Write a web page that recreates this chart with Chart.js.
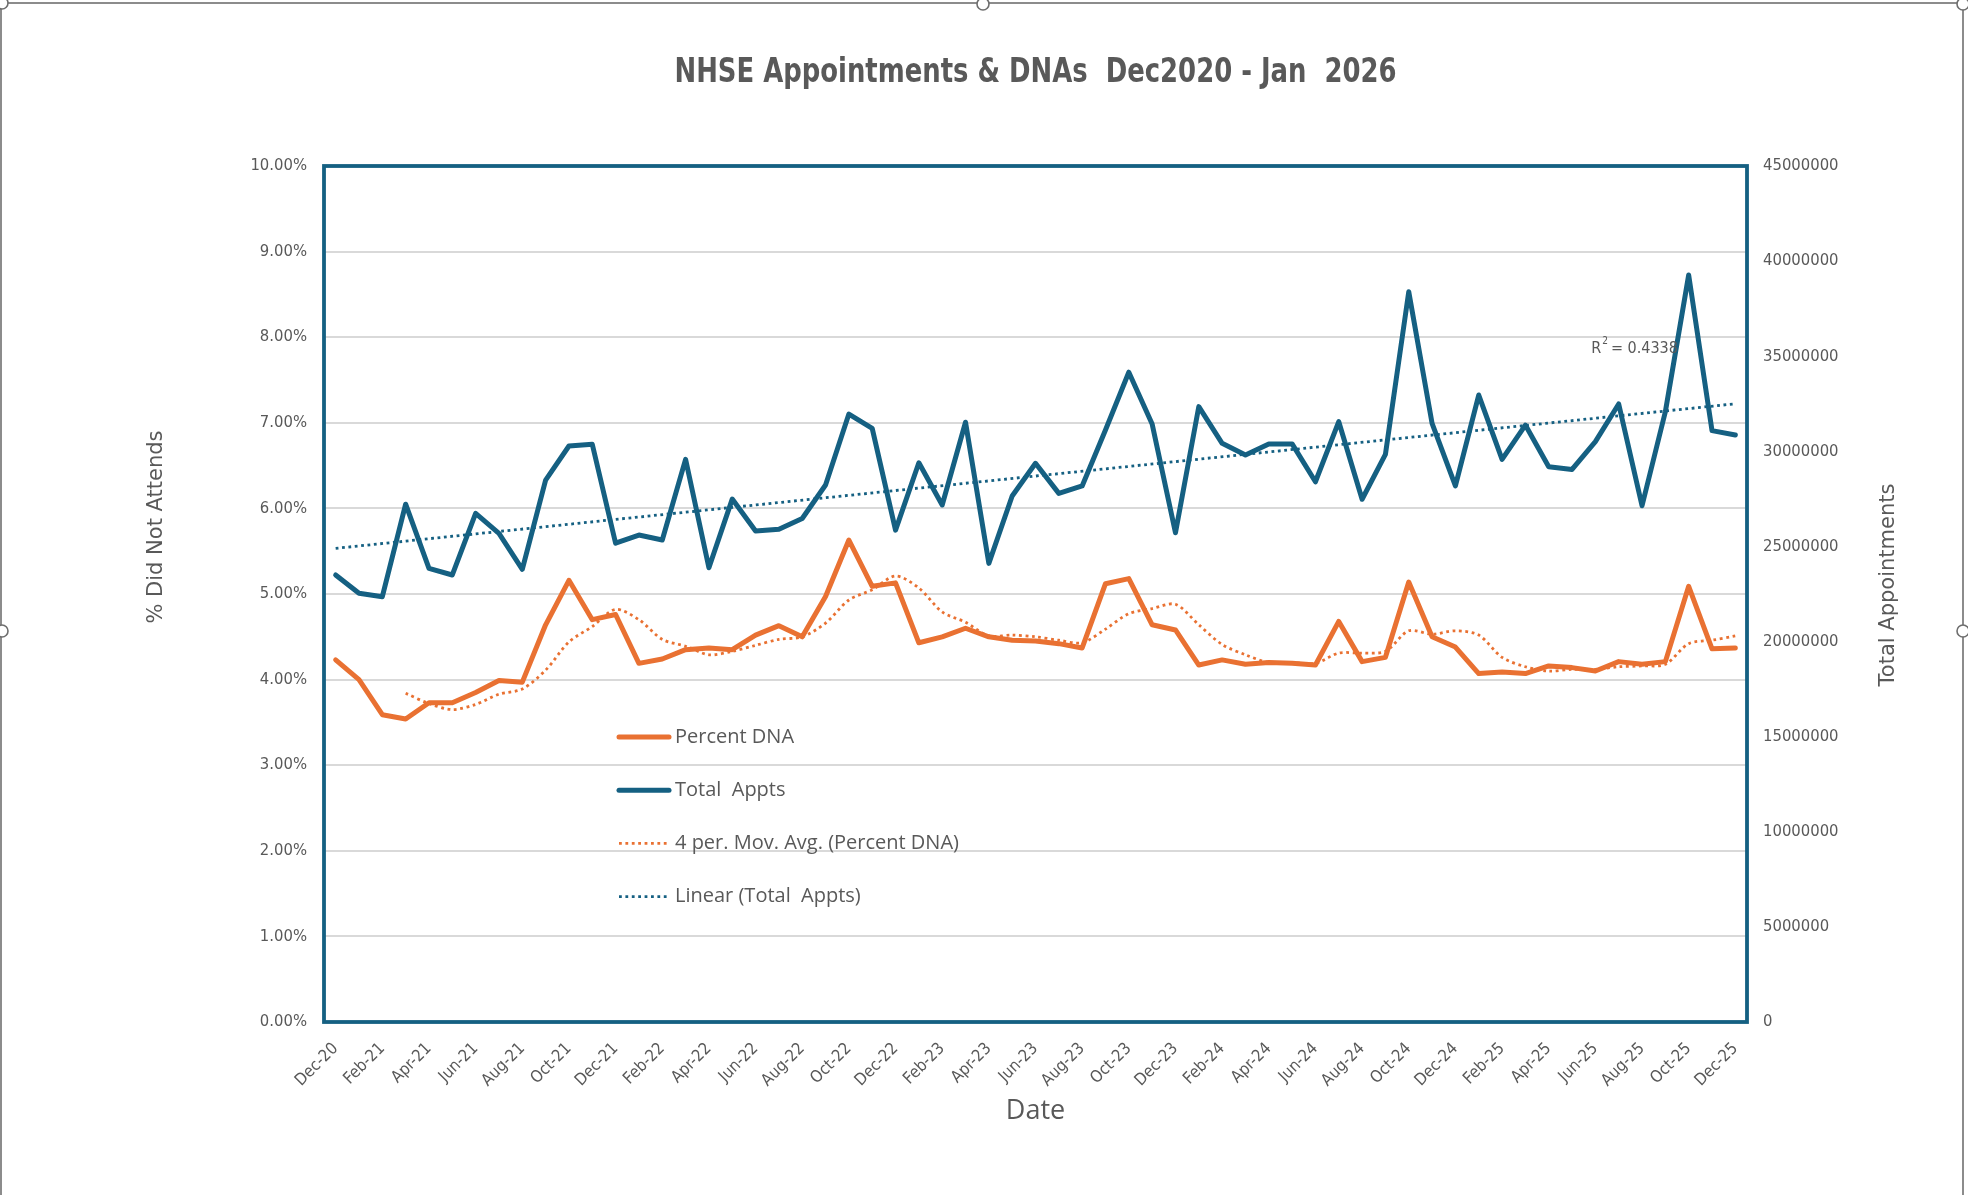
<!DOCTYPE html>
<html>
<head>
<meta charset="utf-8">
<script src="https://cdn.jsdelivr.net/npm/chart.js@4.4.1/dist/chart.umd.min.js"></script>
<style>
  html, body { margin: 0; padding: 0; background: #ffffff; }
  #wrap { position: relative; width: 1968px; height: 1195px; overflow: hidden; }
  canvas { display: block; }
</style>
</head>
<body>
<div id="wrap"><canvas id="c" width="1968" height="1195"></canvas></div>
<script>
// ---------- DATA ----------
const categories = [
  'Dec-20','Jan-21','Feb-21','Mar-21','Apr-21','May-21','Jun-21','Jul-21','Aug-21','Sep-21','Oct-21','Nov-21',
  'Dec-21','Jan-22','Feb-22','Mar-22','Apr-22','May-22','Jun-22','Jul-22','Aug-22','Sep-22','Oct-22','Nov-22',
  'Dec-22','Jan-23','Feb-23','Mar-23','Apr-23','May-23','Jun-23','Jul-23','Aug-23','Sep-23','Oct-23','Nov-23',
  'Dec-23','Jan-24','Feb-24','Mar-24','Apr-24','May-24','Jun-24','Jul-24','Aug-24','Sep-24','Oct-24','Nov-24',
  'Dec-24','Jan-25','Feb-25','Mar-25','Apr-25','May-25','Jun-25','Jul-25','Aug-25','Sep-25','Oct-25','Nov-25',
  'Dec-25'
];

// % Did Not Attend (left axis, in percent)
const percentDNA = [
  4.23, 4.00, 3.59, 3.54, 3.73, 3.73, 3.85, 3.99, 3.97, 4.64, 5.16, 4.70,
  4.76, 4.19, 4.24, 4.35, 4.37, 4.35, 4.52, 4.63, 4.50, 4.97, 5.63, 5.09,
  5.13, 4.43, 4.50, 4.60, 4.50, 4.46, 4.45, 4.42, 4.37, 5.12, 5.18, 4.64,
  4.58, 4.17, 4.23, 4.18, 4.20, 4.19, 4.17, 4.68, 4.21, 4.26, 5.14, 4.50,
  4.38, 4.07, 4.09, 4.07, 4.16, 4.14, 4.10, 4.21, 4.18, 4.21, 5.09, 4.36,
  4.37
];

// Total appointments (right axis)
const totalAppts = [
  23500000, 22540000, 22360000, 27220000, 23850000, 23500000, 26740000, 25690000, 23800000, 28490000, 30280000, 30370000,
  25170000, 25600000, 25340000, 29580000, 23880000, 27490000, 25810000, 25900000, 26470000, 28230000, 31960000, 31210000,
  25860000, 29400000, 27180000, 31530000, 24110000, 27650000, 29370000, 27790000, 28180000, 31120000, 34160000, 31440000,
  25720000, 32350000, 30420000, 29810000, 30390000, 30390000, 28400000, 31560000, 27480000, 29840000, 38390000, 31470000,
  28180000, 32960000, 29580000, 31380000, 29190000, 29050000, 30510000, 32490000, 27140000, 32080000, 39270000, 31090000,
  30860000
];

// 4 per. Mov. Avg. (Percent DNA)
const movAvgDNA = [
  null, null, null, 3.84, 3.72, 3.65, 3.71, 3.83, 3.89, 4.11, 4.44, 4.62,
  4.82, 4.70, 4.47, 4.39, 4.29, 4.33, 4.40, 4.47, 4.50, 4.66, 4.93, 5.05,
  5.21, 5.07, 4.79, 4.67, 4.51, 4.52, 4.50, 4.46, 4.43, 4.59, 4.77, 4.83,
  4.88, 4.64, 4.41, 4.29, 4.20, 4.20, 4.19, 4.31, 4.31, 4.33, 4.57, 4.53,
  4.57, 4.52, 4.26, 4.15, 4.10, 4.12, 4.12, 4.15, 4.16, 4.18, 4.42, 4.46,
  4.51
];

// Linear (Total Appts) trendline end values
const linearStart = 24900000;
const linearEnd = 32500000;
const rSquaredText = '0.4338';

// Axis ticks
const leftTicks = { min: 0, max: 10, step: 1 };
const rightTicks = { min: 0, max: 45000000, step: 5000000 };

const titleText = 'NHSE Appointments & DNAs  Dec2020 - Jan  2026';
const xTitle = 'Date';
const yLeftTitle = '% Did Not Attends';
const yRightTitle = 'Total Appointments';

// ---------- STYLE ----------
const ORANGE = '#E97132';
const BLUE = '#156082';
const TEXT = '#595959';
const GRID = '#D9D9D9';
const NARROW = "'Liberation Sans Narrow', 'DejaVu Sans Condensed', 'Roboto', sans-serif";
const BODY = "'Open Sans', 'Noto Sans', sans-serif";
const WIDE = "'DejaVu Sans', 'Verdana', sans-serif";

const linearData = categories.map((_, i) => i === 0 ? linearStart : (i === categories.length - 1 ? linearEnd : null));

const legendItems = [
  { text: 'Percent DNA', color: ORANGE, width: 5, dash: [] },
  { text: 'Total  Appts', color: BLUE, width: 5, dash: [] },
  { text: '4 per. Mov. Avg. (Percent DNA)', color: ORANGE, width: 2.8, dash: [2.8, 3.6] },
  { text: 'Linear (Total  Appts)', color: BLUE, width: 2.8, dash: [2.8, 3.6] }
];

const decorPlugin = {
  id: 'decor',
  beforeDraw(chart) {
    const ctx = chart.ctx;
    ctx.save();
    ctx.fillStyle = '#ffffff';
    ctx.fillRect(0, 0, chart.width, chart.height);
    // Excel selection frame
    ctx.strokeStyle = '#8c8c8c';
    ctx.lineWidth = 2;
    ctx.beginPath();
    ctx.moveTo(1, chart.height);
    ctx.lineTo(1, 3);
    ctx.lineTo(chart.width - 5, 3);
    ctx.lineTo(chart.width - 5, chart.height);
    ctx.stroke();
    ctx.fillStyle = '#ffffff';
    ctx.lineWidth = 1.6;
    ctx.strokeStyle = '#6e6e6e';
    [[2, 3], [chart.width / 2 - 1, 4], [chart.width - 5, 4], [2, 631], [chart.width - 5, 631]].forEach(p => {
      ctx.beginPath();
      ctx.arc(p[0], p[1], 6, 0, Math.PI * 2);
      ctx.fill();
      ctx.stroke();
    });
    ctx.restore();
  },
  afterDatasetsDraw(chart) {
    const ctx = chart.ctx;
    const ca = chart.chartArea;
    ctx.save();
    // plot frame
    ctx.strokeStyle = BLUE;
    ctx.lineWidth = 3.8;
    ctx.strokeRect(ca.left, ca.top, ca.right - ca.left, ca.bottom - ca.top);

    // title (bold, horizontally condensed to the reference width)
    const cx = (ca.left + ca.right) / 2;
    ctx.fillStyle = TEXT;
    ctx.textAlign = 'center';
    ctx.textBaseline = 'middle';
    ctx.font = 'bold 34px ' + NARROW;
    const tw = ctx.measureText(titleText).width;
    const sx = Math.min(1, 722 / tw);
    ctx.save();
    ctx.translate(cx, 73);
    ctx.scale(sx, 1);
    ctx.fillText(titleText, 0, 0);
    ctx.restore();

    // x title
    ctx.font = '27px ' + BODY;
    ctx.fillText(xTitle, cx, 1111);

    // left y title
    ctx.font = '21px ' + WIDE;
    ctx.save();
    ctx.translate(157, 527);
    ctx.rotate(-Math.PI / 2);
    ctx.fillText(yLeftTitle, 0, 0);
    ctx.restore();
    // right y title
    ctx.save();
    ctx.translate(1889, 585);
    ctx.rotate(-Math.PI / 2);
    ctx.fillText(yRightTitle, 0, 0);
    ctx.restore();

    // R squared label anchored on scales
    const xs = chart.scales.x, yr = chart.scales.y1;
    const rx = xs.getPixelForValue(54) - 4;
    const ry = yr.getPixelForValue(35400000);
    ctx.textAlign = 'left';
    ctx.font = '16px ' + NARROW;
    ctx.fillText('R', rx, ry);
    const rw = ctx.measureText('R').width;
    ctx.font = '10px ' + NARROW;
    ctx.fillText('2', rx + rw + 1, ry - 7);
    ctx.font = '16px ' + NARROW;
    ctx.fillText(' = ' + rSquaredText, rx + rw + 5, ry);

    // legend (inside plot area, transparent)
    const lx = ca.left + 295;
    ctx.font = '20px ' + BODY;
    legendItems.forEach((it, k) => {
      const y = ca.top + 571 + k * 53.2;
      ctx.beginPath();
      ctx.strokeStyle = it.color;
      ctx.lineWidth = it.width;
      ctx.lineCap = it.dash.length ? 'butt' : 'round';
      ctx.setLineDash(it.dash);
      ctx.moveTo(lx, y);
      ctx.lineTo(lx + 50, y);
      ctx.stroke();
      ctx.setLineDash([]);
      ctx.fillStyle = TEXT;
      ctx.textBaseline = 'middle';
      ctx.fillText(it.text, lx + 56, y);
    });
    ctx.restore();
  }
};

new Chart(document.getElementById('c'), {
  type: 'line',
  data: {
    labels: categories,
    datasets: [
      {
        label: 'Linear (Total Appts)',
        data: linearData,
        yAxisID: 'y1',
        borderColor: BLUE,
        borderWidth: 2.8,
        borderDash: [2.8, 3.6],
        pointRadius: 0,
        spanGaps: true,
        fill: false,
        order: 0
      },
      {
        label: '4 per. Mov. Avg. (Percent DNA)',
        data: movAvgDNA,
        yAxisID: 'y',
        borderColor: ORANGE,
        borderWidth: 2.8,
        borderDash: [2.8, 3.6],
        pointRadius: 0,
        tension: 0.3,
        spanGaps: false,
        fill: false,
        order: 1
      },
      {
        label: 'Total Appts',
        data: totalAppts,
        yAxisID: 'y1',
        borderColor: BLUE,
        borderWidth: 5,
        pointRadius: 0,
        borderJoinStyle: 'round',
        borderCapStyle: 'round',
        tension: 0,
        fill: false,
        order: 2
      },
      {
        label: 'Percent DNA',
        data: percentDNA,
        yAxisID: 'y',
        borderColor: ORANGE,
        borderWidth: 5,
        pointRadius: 0,
        borderJoinStyle: 'round',
        borderCapStyle: 'round',
        tension: 0,
        fill: false,
        order: 3
      }
    ]
  },
  options: {
    responsive: false,
    devicePixelRatio: 1,
    animation: false,
    layout: { padding: { top: 166, left: 0, right: 0, bottom: 0 } },
    plugins: {
      legend: { display: false },
      tooltip: { enabled: false },
      title: { display: false }
    },
    scales: {
      x: {
        type: 'category',
        offset: true,
        grid: { display: false },
        border: { display: false },
        ticks: {
          autoSkip: false,
          minRotation: 45,
          maxRotation: 45,
          padding: 9,
          color: TEXT,
          font: { family: NARROW, size: 16.5 },
          callback: function (value, index) {
            return index % 2 === 0 ? this.getLabelForValue(value) : '';
          }
        },
        afterFit(scale) { scale.height = 173; }
      },
      y: {
        position: 'left',
        min: leftTicks.min,
        max: leftTicks.max,
        grid: { color: GRID, lineWidth: 2, drawTicks: false },
        border: { display: false },
        ticks: {
          stepSize: leftTicks.step,
          padding: 17,
          color: TEXT,
          font: { family: NARROW, size: 16.5 },
          callback: v => v.toFixed(2) + '%'
        },
        afterFit(scale) { scale.width = 324; }
      },
      y1: {
        position: 'right',
        min: rightTicks.min,
        max: rightTicks.max,
        grid: { display: false, drawTicks: false },
        border: { display: false },
        ticks: {
          stepSize: rightTicks.step,
          padding: 16,
          color: TEXT,
          font: { family: NARROW, size: 16.5 },
          callback: v => String(v)
        },
        afterFit(scale) { scale.width = 221; }
      }
    }
  },
  plugins: [decorPlugin]
});
</script>
</body>
</html>
